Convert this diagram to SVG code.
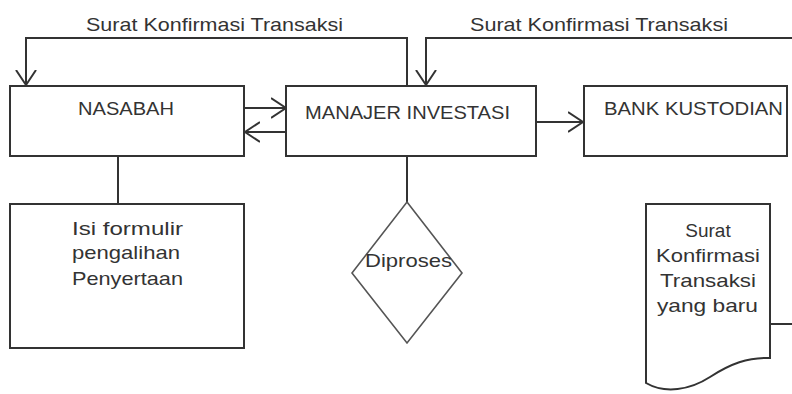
<svg xmlns="http://www.w3.org/2000/svg" width="792" height="394" viewBox="0 0 792 394">
<style>
.box{fill:#fff;stroke:#333;stroke-width:2}
.dia{fill:#fff;stroke:#555;stroke-width:1.6}
.ln{fill:none;stroke:#333;stroke-width:2}
.t{font-family:"Liberation Sans",Arial,sans-serif;font-size:19px;fill:#333}
.c{text-anchor:middle}
</style>
<defs>
<marker id="arr" viewBox="0 -11 17 22" refX="15" refY="0" markerWidth="17" markerHeight="22" markerUnits="userSpaceOnUse" orient="auto">
<path d="M0,-10 L15,0 L0,10" fill="none" stroke="#333" stroke-width="2"/>
</marker>
</defs>
<rect width="792" height="394" fill="#fff"/>
<g id="connectors">
<polyline class="ln" points="407,86 407,38 26,38 26,85" marker-end="url(#arr)"/>
<polyline class="ln" points="792,38 426,38 426,85" marker-end="url(#arr)"/>
<line class="ln" x1="244" y1="108" x2="286" y2="108" marker-end="url(#arr)"/>
<line class="ln" x1="286" y1="132" x2="245" y2="132" marker-end="url(#arr)"/>
<line class="ln" x1="536" y1="122" x2="583" y2="122" marker-end="url(#arr)"/>
<line class="ln" x1="118" y1="156" x2="118" y2="204"/>
<line class="ln" x1="407" y1="156" x2="407" y2="202"/>
<line class="ln" x1="770" y1="324" x2="792" y2="324"/>
</g>
<text class="t" x="86" y="31" textLength="257" lengthAdjust="spacingAndGlyphs">Surat Konfirmasi Transaksi</text>
<text class="t" x="470" y="31" textLength="258" lengthAdjust="spacingAndGlyphs">Surat Konfirmasi Transaksi</text>
<g id="nasabah">
<rect class="box" x="10" y="86" width="234" height="70"/>
<text class="t" x="78" y="115" textLength="96" lengthAdjust="spacingAndGlyphs">NASABAH</text>
</g>
<g id="manajer">
<rect class="box" x="286" y="86" width="250" height="70"/>
<text class="t" x="305" y="119" textLength="205" lengthAdjust="spacingAndGlyphs">MANAJER INVESTASI</text>
</g>
<g id="bank">
<rect class="box" x="584" y="86" width="203" height="70"/>
<text class="t" x="604" y="115" textLength="179" lengthAdjust="spacingAndGlyphs">BANK KUSTODIAN</text>
</g>
<g id="formulir">
<rect class="box" x="10" y="204" width="234" height="144"/>
<text class="t" x="72" y="235" textLength="111" lengthAdjust="spacingAndGlyphs">Isi formulir</text>
<text class="t" x="72" y="259" textLength="108" lengthAdjust="spacingAndGlyphs">pengalihan</text>
<text class="t" x="72" y="285" textLength="111" lengthAdjust="spacingAndGlyphs">Penyertaan</text>
</g>
<g id="diproses">
<polygon class="dia" points="407,202 462,273 407,343 352,273"/>
<text class="t" x="365" y="267" textLength="87" lengthAdjust="spacingAndGlyphs">Diproses</text>
</g>
<g id="dokumen">
<path class="box" d="M646,204 H770 V358 C748,357 730,364 710,377 C690,390 665,394 646,383 Z"/>
<text class="t c" x="708" y="237">Surat</text>
<text class="t" x="656" y="262" textLength="104" lengthAdjust="spacingAndGlyphs">Konfirmasi</text>
<text class="t" x="660" y="287" textLength="96" lengthAdjust="spacingAndGlyphs">Transaksi</text>
<text class="t" x="657" y="312" textLength="101" lengthAdjust="spacingAndGlyphs">yang baru</text>
</g>
</svg>
